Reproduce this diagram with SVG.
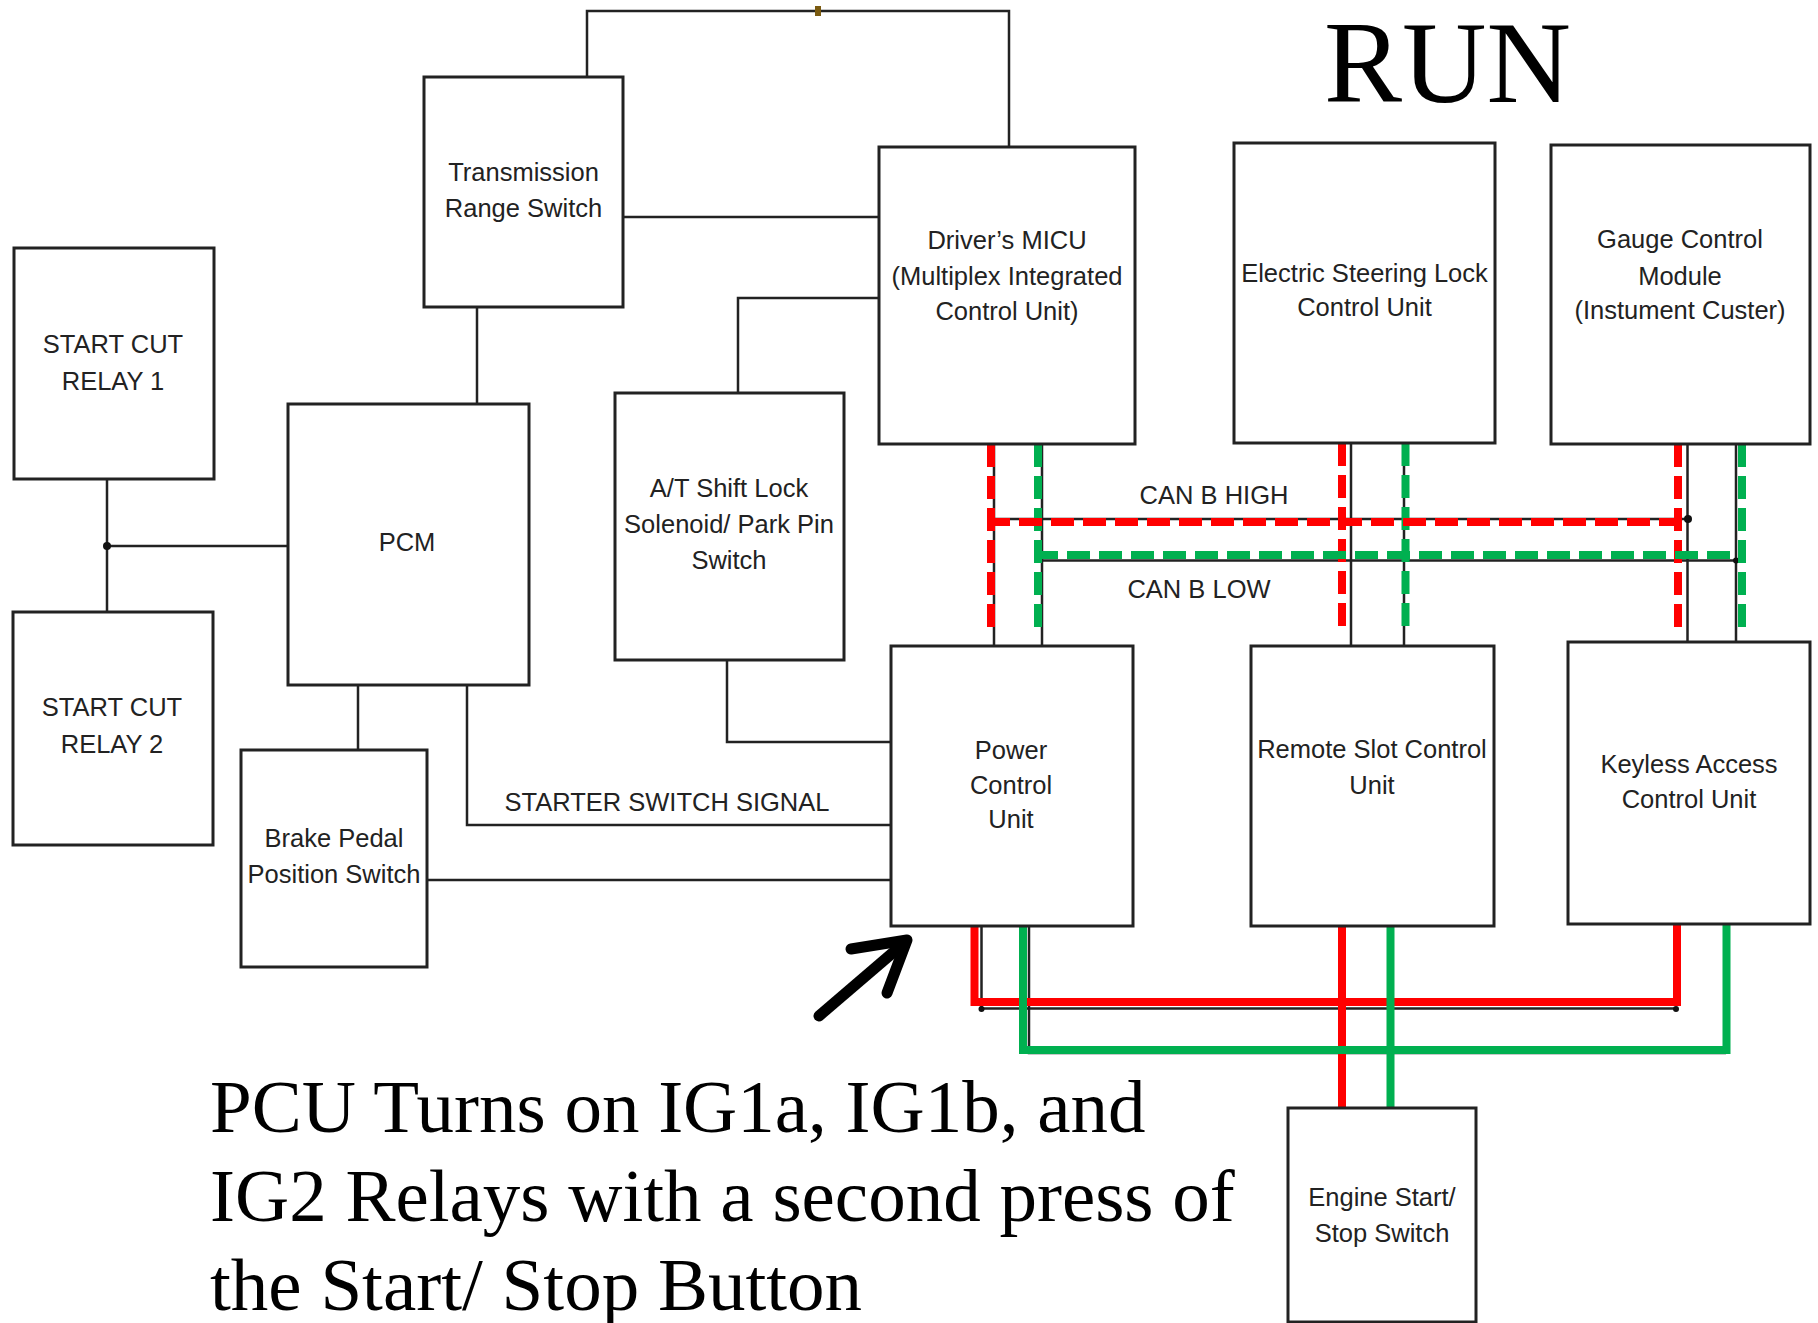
<svg xmlns="http://www.w3.org/2000/svg" width="1818" height="1323" viewBox="0 0 1818 1323">
<style>
.box{fill:#fff;stroke:#222;stroke-width:3}
.t{font-family:"Liberation Sans",Arial,sans-serif;font-size:25.5px;fill:#222;text-anchor:middle}
.w{fill:none;stroke:#222;stroke-width:2.5}
.rd{fill:none;stroke:#ff0000;stroke-width:8;stroke-dasharray:23 9}
.gd{fill:none;stroke:#00b050;stroke-width:8;stroke-dasharray:23 9}
.rs{fill:none;stroke:#ff0000;stroke-width:8}
.gs{fill:none;stroke:#00b050;stroke-width:8}
.big{font-family:"Liberation Serif","Times New Roman",serif;font-size:75px;fill:#000}
</style>
<rect width="1818" height="1323" fill="#fff"/>
<g id="connectors">
<path class="w" d="M587,77 V11 H1009 V147"/>
<rect x="815" y="6" width="6" height="10" fill="#7a5a10"/>
<path class="w" d="M623,217 H879"/>
<path class="w" d="M879,298 H738 V393"/>
<path class="w" d="M477,307 V404"/>
<path class="w" d="M107,479 V612 M107,546 H288"/>
<circle cx="107" cy="546" r="4" fill="#111"/>
<path class="w" d="M358,685 V750"/>
<path class="w" d="M467,685 V825 H891"/>
<path class="w" d="M427,880 H891"/>
<path class="w" d="M727,660 V742 H891"/>
<path class="w" d="M994,444 V646 M1042,444 V646 M1351,443 V646 M1404,443 V646 M1687.5,444 V642 M1736,444 V642"/>
<path class="w" d="M994,519 H1688 M1042,560.5 H1736"/>
<circle cx="1688" cy="519" r="4" fill="#111"/>
<circle cx="1736" cy="560.5" r="3" fill="#111"/>
<path class="w" d="M981.5,926 V1008.5 H1676 M1029,926 V1053 H1726"/>
<circle cx="981.5" cy="1009" r="3" fill="#111"/>
<circle cx="1676" cy="1009" r="3" fill="#111"/>
<path class="rd" d="M991,444 V627 M1342,443 V627 M1678,444 V627"/>
<path class="gd" d="M1038,444 V627 M1405.5,443 V627 M1742,444 V627"/>
<path class="rd" d="M987,522 H1682"/>
<path class="gd" d="M1035,555 H1744"/>
<path class="rs" d="M974.5,926 V1002 H1677 V924"/>
<path class="rs" d="M1342,926 V1113"/>
<path class="gs" d="M1023,926 V1050 H1726.5 V924"/>
<path class="gs" d="M1390.5,926 V1113"/>
<path d="M819,1016 L903,944" fill="none" stroke="#000" stroke-width="11" stroke-linecap="round"/>
<path d="M851,949 L907,940 L887,993" fill="none" stroke="#000" stroke-width="11" stroke-linecap="round" stroke-linejoin="round"/>
</g>
<g id="relay1"><rect class="box" x="14" y="248" width="200" height="231"/><text class="t" x="113" y="353">START CUT</text><text class="t" x="113" y="390">RELAY 1</text></g>
<g id="relay2"><rect class="box" x="13" y="612" width="200" height="233"/><text class="t" x="112" y="716">START CUT</text><text class="t" x="112" y="753">RELAY 2</text></g>
<g id="trans"><rect class="box" x="424" y="77" width="199" height="230"/><text class="t" x="523.5" y="181">Transmission</text><text class="t" x="523.5" y="217">Range Switch</text></g>
<g id="pcm"><rect class="box" x="288" y="404" width="241" height="281"/><text class="t" x="407" y="551">PCM</text></g>
<g id="brake"><rect class="box" x="241" y="750" width="186" height="217"/><text class="t" x="334" y="847">Brake Pedal</text><text class="t" x="334" y="883">Position Switch</text></g>
<g id="atshift"><rect class="box" x="615" y="393" width="229" height="267"/><text class="t" x="729" y="497">A/T Shift Lock</text><text class="t" x="729" y="533">Solenoid/ Park Pin</text><text class="t" x="729" y="569">Switch</text></g>
<g id="micu"><rect class="box" x="879" y="147" width="256" height="297"/><text class="t" x="1007" y="249">Driver’s MICU</text><text class="t" x="1007" y="285">(Multiplex Integrated</text><text class="t" x="1007" y="320">Control Unit)</text></g>
<g id="esl"><rect class="box" x="1234" y="143" width="261" height="300"/><text class="t" x="1364.5" y="282">Electric Steering Lock</text><text class="t" x="1364.5" y="316">Control Unit</text></g>
<g id="gauge"><rect class="box" x="1551" y="145" width="259" height="299"/><text class="t" x="1680" y="248">Gauge Control</text><text class="t" x="1680" y="285">Module</text><text class="t" x="1680" y="319">(Instument Custer)</text></g>
<g id="pcu"><rect class="box" x="891" y="646" width="242" height="280"/><text class="t" x="1011" y="759">Power</text><text class="t" x="1011" y="794">Control</text><text class="t" x="1011" y="828">Unit</text></g>
<g id="remote"><rect class="box" x="1251" y="646" width="243" height="280"/><text class="t" x="1372" y="758">Remote Slot Control</text><text class="t" x="1372" y="794">Unit</text></g>
<g id="keyless"><rect class="box" x="1568" y="642" width="242" height="282"/><text class="t" x="1689" y="773">Keyless Access</text><text class="t" x="1689" y="808">Control Unit</text></g>
<g id="engine"><rect class="box" x="1288" y="1108" width="188" height="214"/><text class="t" x="1382" y="1206">Engine Start/</text><text class="t" x="1382" y="1242">Stop Switch</text></g>
<g id="labels">
<text class="t" x="1214" y="504">CAN B HIGH</text>
<text class="t" x="1199" y="598">CAN B LOW</text>
<text class="t" x="667" y="811">STARTER SWITCH SIGNAL</text>
<text x="1324" y="102" font-family="'Liberation Serif','Times New Roman',serif" font-size="117" fill="#000">RUN</text>
<text class="big" x="210" y="1132">PCU Turns on IG1a, IG1b, and</text>
<text class="big" x="210" y="1221">IG2 Relays with a second press of</text>
<text class="big" x="210" y="1310">the Start/ Stop Button</text>
</g>
</svg>
